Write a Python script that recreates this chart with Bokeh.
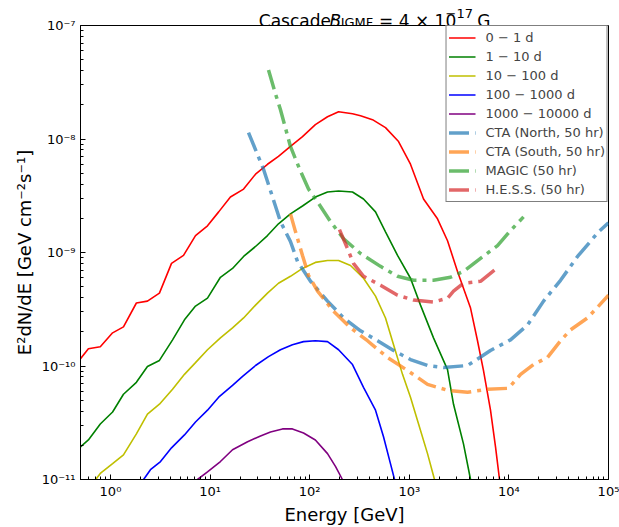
import math
from bokeh.plotting import figure
from bokeh.layouts import column
from bokeh.models import (Legend, LegendItem, FixedTicker, CustomJSTickFormatter, Range1d)
from bokeh.core.properties import value
from bokeh.embed import file_html
from bokeh.resources import INLINE

# ---------------- data ----------------
red_E = [0.5, 0.60, 0.79, 1.05, 1.35, 1.82, 2.35, 3.10, 4.10, 5.41, 7.14, 9.42, 12.2,
         16.0, 21.7, 28.6, 37.7, 48.6, 64.1, 84.7, 114, 151, 195, 269, 324, 427, 577,
         780, 1028, 1390, 1919, 2420, 3048, 4120, 4840, 5560, 6530, 7340, 8050, 8400]
red_F = [1.16e-10, 1.42e-10, 1.48e-10, 1.96e-10, 2.21e-10, 3.59e-10, 3.73e-10, 4.39e-10,
         8.02e-10, 9.42e-10, 1.41e-9, 1.72e-9, 2.28e-9, 3.08e-9, 3.62e-9, 4.90e-9, 5.99e-9,
         7.03e-9, 8.60e-9, 1.05e-8, 1.34e-8, 1.57e-8, 1.74e-8, 1.67e-8, 1.60e-8, 1.48e-8,
         1.26e-8, 9.5e-9, 6.0e-9, 2.96e-9, 1.98e-9, 1.27e-9, 6.8e-10, 3.24e-10, 1.67e-10,
         9.1e-11, 4.1e-11, 1.94e-11, 1.0e-11, 7e-12]

green_E = [0.5, 0.60, 0.79, 1.05, 1.35, 1.82, 2.35, 3.10, 4.20, 5.53, 7.14, 9.42, 12.7,
           16.8, 21.7, 28.6, 37.7, 48.6, 64.1, 84.7, 114, 151, 195, 269, 347, 458, 577,
           762, 1028, 1296, 1750, 2420, 2780, 3500, 4120, 4400]
green_F = [1.94e-11, 2.23e-11, 3.08e-11, 3.93e-11, 5.64e-11, 7.18e-11, 9.9e-11, 1.12e-10,
           1.70e-10, 2.55e-10, 3.37e-10, 3.96e-10, 6.05e-10, 7.24e-10, 9.23e-10, 1.13e-9,
           1.41e-9, 1.79e-9, 2.19e-9, 2.57e-9, 3.08e-9, 3.41e-9, 3.48e-9, 3.41e-9, 2.96e-9,
           2.28e-9, 1.52e-9, 9.42e-10, 5.93e-10, 3.44e-10, 1.77e-10, 9.3e-11, 4.6e-11,
           2.06e-11, 1.0e-11, 7e-12]

yellow_E = [0.66, 0.71, 0.79, 1.05, 1.35, 1.82, 2.35, 3.10, 4.20, 5.53, 7.14, 9.42, 12.7,
            16.8, 21.7, 28.6, 37.7, 48.6, 64.1, 84.7, 114, 151, 195, 257, 347, 458, 577,
            695, 855, 1028, 1239, 1524, 1791, 1900]
yellow_F = [8e-12, 1.0e-11, 1.13e-11, 1.38e-11, 1.65e-11, 2.52e-11, 3.77e-11, 4.61e-11,
            6.24e-11, 8.44e-11, 1.07e-10, 1.39e-10, 1.77e-10, 2.17e-10, 2.65e-10, 3.44e-10,
            4.39e-10, 5.36e-10, 6.17e-10, 7.24e-10, 8.18e-10, 8.51e-10, 8.51e-10, 7.69e-10,
            5.93e-10, 4.13e-10, 2.65e-10, 1.54e-10, 8.44e-11, 5.31e-11, 3.08e-11, 1.69e-11,
            1.0e-11, 8e-12]

blue_E = [1.95, 2.15, 2.52, 3.18, 4.10, 5.53, 7.14, 9.42, 12.2, 16.8, 21.2, 28.6, 38.6,
          50.9, 67.1, 86.7, 114, 151, 195, 269, 347, 458, 551, 647, 711, 740]
blue_F = [8.5e-12, 1.0e-11, 1.22e-11, 1.44e-11, 1.90e-11, 2.47e-11, 3.21e-11, 4.08e-11,
          5.31e-11, 6.76e-11, 8.09e-11, 1.01e-10, 1.21e-10, 1.39e-10, 1.54e-10, 1.64e-10,
          1.67e-10, 1.64e-10, 1.39e-10, 1.03e-10, 6.49e-11, 4.08e-11, 2.38e-11, 1.38e-11,
          1.0e-11, 8.5e-12]

purple_E = [6.6, 7.48, 9.42, 12.7, 16.8, 23.8, 32.1, 40.4, 53.3, 67.1, 86.7, 114, 151,
            182, 213, 225]
purple_F = [8.8e-12, 1.0e-11, 1.17e-11, 1.44e-11, 1.83e-11, 2.15e-11, 2.42e-11, 2.62e-11,
            2.79e-11, 2.79e-11, 2.57e-11, 2.23e-11, 1.69e-11, 1.30e-11, 1.0e-11, 9e-12]

ctan_E = [24.3, 34.4, 50.9, 64.1, 75.5, 102, 151, 219, 324, 480, 695, 1028, 1524, 2208,
          3846, 6530, 10380, 15380, 22280, 33000, 48900, 79400, 100000]
ctan_F = [1.14e-8, 5.42e-9, 1.87e-9, 1.25e-9, 8.34e-10, 5.58e-10, 3.73e-10, 2.65e-10,
          2.04e-10, 1.67e-10, 1.37e-10, 1.14e-10, 1.01e-10, 9.7e-11, 1.01e-10, 1.37e-10,
          1.70e-10, 2.30e-10, 3.73e-10, 5.69e-10, 9.23e-10, 1.52e-9, 1.83e-9]

ctas_E = [64.1, 72.1, 84.7, 97.3, 120, 173, 257, 380, 604, 959, 1524, 2420, 3846, 6100,
          9910, 13100, 17660, 24400, 33000, 41600, 61500, 79400, 100000]
ctas_F = [2.19e-9, 1.52e-9, 9.42e-10, 6.30e-10, 4.56e-10, 3.05e-10, 2.17e-10, 1.67e-10,
          1.19e-10, 9.14e-11, 6.89e-11, 6.11e-11, 5.87e-11, 6.24e-11, 6.36e-11, 8.44e-11,
          1.03e-10, 1.19e-10, 1.67e-10, 2.08e-10, 2.65e-10, 3.37e-10, 4.21e-10]

magic_E = [38.6, 45.4, 50.9, 64.1, 80.9, 97.3, 120, 162, 219, 324, 514, 762, 1102, 1750,
           2594, 3500, 5190, 7690, 10380, 14030]
magic_F = [4.05e-8, 2.49e-8, 1.81e-8, 8.60e-9, 5.20e-9, 3.62e-9, 2.79e-9, 1.87e-9,
           1.32e-9, 9.8e-10, 7.55e-10, 6.17e-10, 5.69e-10, 5.69e-10, 6.05e-10, 6.82e-10,
           8.87e-10, 1.15e-9, 1.56e-9, 2.06e-9]

hess_E = [199, 240, 275, 347, 514, 762, 1102, 1750, 2420, 2780, 3500, 5190, 7340]
hess_F = [1.59e-9, 1.08e-9, 8.02e-10, 6.17e-10, 5.15e-10, 4.21e-10, 3.81e-10, 3.66e-10,
          3.96e-10, 4.56e-10, 5.36e-10, 5.58e-10, 7.11e-10]

solid_labels = ["0 \u2212 1 d", "1 \u2212 10 d", "10 \u2212 100 d", "100 \u2212 1000 d",
                "1000 \u2212 10000 d"]
sens_labels = ["CTA (North, 50 hr)", "CTA (South, 50 hr)", "MAGIC (50 hr)", "H.E.S.S. (50 hr)"]

x_major = [1e0, 1e1, 1e2, 1e3, 1e4, 1e5]
y_major = [1e-11, 1e-10, 1e-9, 1e-8, 1e-7]

FONT = "DejaVu Sans"

# ---------------- title strip: its lower part sits under the transparent top border
# ---------------- of the main figure (negative bottom margin) ----------------
TH, OVER = 30, 13
t = figure(width=619, height=TH, x_range=Range1d(0, 619), y_range=Range1d(TH, 0),
           output_backend="svg", toolbar_location=None, title=None, min_border=0,
           x_axis_location=None, y_axis_location=None)
t.grid.visible = False
t.outline_line_color = None
t.background_fill_color = "white"
t.border_fill_color = "white"
t.margin = (0, 0, -OVER, 0)

def piece(text, px, base, size, style="normal"):
    t.text(x=[px], y=[base], text=[text], text_font=value(FONT),
           text_font_size=value(size), text_font_style=style,
           text_baseline="alphabetic", text_align="left", text_color="black")

piece("Cascade:", 209, 20.5, "17px")
piece("B", 292, 20.5, "17px", "italic")
piece("IGMF", 305, 22, "13px")
piece("= 4 \u00d7 10", 350, 20.5, "17px")
piece("\u221217", 428, 12.5, "13px")
piece("G", 465, 20.5, "17px")

# ---------------- main figure ----------------
p = figure(width=619, height=527 - (TH - OVER), x_axis_type="log", y_axis_type="log",
           x_range=Range1d(0.5, 1e5), y_range=Range1d(1e-11, 1e-7),
           output_backend="svg", toolbar_location=None, title=None,
           min_border_left=80, min_border_right=11, min_border_top=8,
           min_border_bottom=44)
p.grid.visible = False
p.outline_line_color = "black"
p.outline_line_width = 1
p.background_fill_color = "white"
p.border_fill_alpha = 0.0

solid = [(red_E, red_F, "#ff0000"), (green_E, green_F, "#008000"),
         (yellow_E, yellow_F, "#bfbf00"), (blue_E, blue_F, "#0000ff"),
         (purple_E, purple_F, "#800080")]
sens = [(ctan_E, ctan_F, "#1f77b4"), (ctas_E, ctas_F, "#ff7f0e"),
        (magic_E, magic_F, "#2ca02c"), (hess_E, hess_F, "#d62728")]

items = []
for (xs, ys, c), lab in zip(solid, solid_labels):
    r = p.line(xs, ys, line_color=c, line_width=1.6)
    items.append(LegendItem(label=lab, renderers=[r]))
for (xs, ys, c), lab in zip(sens, sens_labels):
    r = p.line(xs, ys, line_color=c, line_width=3.5, line_alpha=0.7,
               line_dash="20 6 4 6")
    items.append(LegendItem(label=lab, renderers=[r]))

legend = Legend(items=items, location="top_right", margin=0, padding=2, spacing=0,
                label_height=19, glyph_height=19, glyph_width=27, label_standoff=10,
                label_text_font=FONT, label_text_font_size="13px",
                border_line_color="black", border_line_width=1,
                background_fill_color="white", background_fill_alpha=1.0)
p.add_layout(legend)

def minors(lo, hi):
    out = []
    for k in range(int(math.floor(math.log10(lo))), int(math.ceil(math.log10(hi)))):
        for m in range(2, 10):
            v = m * 10.0 ** k
            if lo <= v <= hi:
                out.append(v)
    return out

fmt = CustomJSTickFormatter(code="""
const sup = {'-':'\u207b','0':'\u2070','1':'\u00b9','2':'\u00b2','3':'\u00b3',
             '4':'\u2074','5':'\u2075','6':'\u2076','7':'\u2077','8':'\u2078','9':'\u2079'};
const e = Math.round(Math.log10(tick));
return '10' + String(e).split('').map(c => sup[c]).join('');
""")

p.xaxis.ticker = FixedTicker(ticks=x_major, minor_ticks=minors(0.5, 1e5))
p.yaxis.ticker = FixedTicker(ticks=y_major, minor_ticks=minors(1e-11, 1e-7))
for ax in (p.xaxis[0], p.yaxis[0]):
    ax.formatter = fmt
    ax.major_tick_in = 5
    ax.major_tick_out = 0
    ax.minor_tick_in = 3
    ax.minor_tick_out = 0
    ax.major_tick_line_color = "black"
    ax.minor_tick_line_color = "black"
    ax.axis_line_color = "black"
    ax.major_label_text_font = FONT
    ax.major_label_text_font_size = "13px"
    ax.major_label_text_color = "black"
    ax.axis_label_text_font = FONT
    ax.axis_label_text_font_size = "18px"
    ax.axis_label_text_font_style = "normal"
    ax.axis_label_text_color = "black"
p.xaxis.major_label_standoff = 4
p.yaxis.major_label_standoff = 5
p.xaxis.axis_label = "Energy [GeV]"
p.xaxis.axis_label_standoff = 2
p.yaxis.axis_label = "E\u00b2dN/dE [GeV cm\u207b\u00b2s\u207b\u00b9]"
p.yaxis.axis_label_standoff = 4

layout = column(t, p, spacing=0)

with open("out.html", "w", encoding="utf-8") as f:
    f.write(file_html(layout, INLINE))
